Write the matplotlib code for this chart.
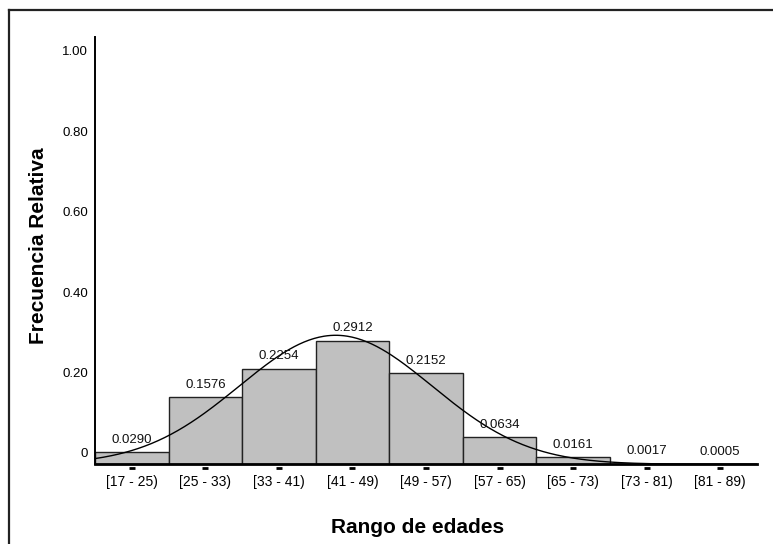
import numpy as np
import matplotlib
matplotlib.use("Agg")
import matplotlib.pyplot as plt
from matplotlib.lines import Line2D
from matplotlib.transforms import blended_transform_factory

plt.rcParams['font.family'] = ['Liberation Sans', 'DejaVu Sans']

# data
bin_edges = [17, 25, 33, 41, 49, 57, 65, 73, 81, 89]
categories = ["[17 - 25)", "[25 - 33)", "[33 - 41)", "[41 - 49)", "[49 - 57)",
              "[57 - 65)", "[65 - 73)", "[73 - 81)", "[81 - 89)"]
rel_freq = [0.0290, 0.1576, 0.2254, 0.2912, 0.2152, 0.0634, 0.0161, 0.0017, 0.0005]
value_labels = ["0.0290", "0.1576", "0.2254", "0.2912", "0.2152",
                "0.0634", "0.0161", "0.0017", "0.0005"]
ytick_values = [0, 0.20, 0.40, 0.60, 0.80, 1.00]
ytick_labels = ["0", "0.20", "0.40", "0.60", "0.80", "1.00"]

edges = np.array(bin_edges, dtype=float)
freq = np.array(rel_freq)
width = np.diff(edges)
centers = edges[:-1] + width / 2

# normal curve fitted to the grouped data, scaled to bin width
mean = np.sum(centers * freq) / freq.sum()
sd = np.sqrt(np.sum(freq * (centers - mean) ** 2) / freq.sum())
xs = np.linspace(edges[0], edges[-1], 400)
ys = width[0] * np.exp(-0.5 * ((xs - mean) / sd) ** 2) / (sd * np.sqrt(2 * np.pi))

fig = plt.figure(figsize=(7.73, 5.44), dpi=100)
ax = fig.add_axes([0.1229, 0.1465, 0.8564, 0.7855])

ax.bar(edges[:-1], freq, width=width, align='edge', color='#c0c0c0',
       edgecolor='#222222', linewidth=1.0, zorder=2)
ax.plot(xs, ys, color='black', linewidth=1.0, zorder=3)

for c, v, lab in zip(centers, freq, value_labels):
    ax.annotate(lab, (c, v), xytext=(0, 9), textcoords='offset points',
                ha='center', va='center', fontsize=9.5, color='#111111', zorder=4)

ax.set_xlim(edges[0], edges[-1])
ax.set_ylim(0, 1.008)

# y labels sit on a slightly offset scale in the original
ax.set_yticks([0.0267 + 0.949 * v for v in ytick_values])
ax.set_yticklabels(ytick_labels, fontsize=9.5)
ax.tick_params(axis='y', length=0, pad=5)

ax.set_xticks(centers)
ax.set_xticklabels(categories, fontsize=10)
ax.tick_params(axis='x', length=0, pad=8)

# small dash marks under each bar
trans = blended_transform_factory(ax.transData, ax.transAxes)
ax.plot(centers, [-0.009] * len(centers), linestyle='none', marker='_',
        markersize=4, markeredgewidth=2, color='black', transform=trans, clip_on=False)

for s in ['top', 'right']:
    ax.spines[s].set_visible(False)
ax.spines['left'].set_linewidth(1.4)
ax.spines['bottom'].set_linewidth(2.0)

ax.set_xlabel("Rango de edades", fontsize=15, fontweight='bold', va='center')
ax.set_ylabel("Frecuencia Relativa", fontsize=15, fontweight='bold', va='center', ha='center')
ax.xaxis.set_label_coords(0.488, -0.147)
ax.yaxis.set_label_coords(-0.086, 0.511)

# outer frame (top and left edges)
fig.add_artist(Line2D([8.5 / 773, 1], [1 - 9.5 / 544, 1 - 9.5 / 544],
                      transform=fig.transFigure, color='#222222', linewidth=1.6))
fig.add_artist(Line2D([8.5 / 773, 8.5 / 773], [0, 1 - 9.5 / 544],
                      transform=fig.transFigure, color='#222222', linewidth=1.6))

fig.savefig("out.png", dpi=100)
